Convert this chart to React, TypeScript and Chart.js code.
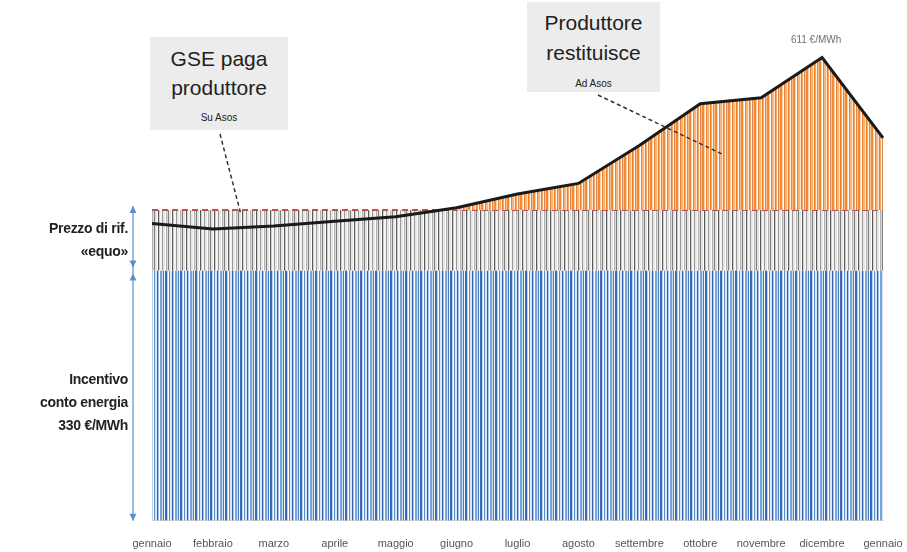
import React, { useEffect, useRef } from 'react';
import { Chart, registerables } from 'chart.js';
Chart.register(...registerables);

const months = ['gennaio', 'febbraio', 'marzo', 'aprile', 'maggio', 'giugno', 'luglio', 'agosto', 'settembre', 'ottobre', 'novembre', 'dicembre', 'gennaio'];
const priceLine = [392, 385, 389, 395, 401, 413, 431, 445, 495, 550, 558, 611, 505];
const incentive = [330, 330, 330, 330, 330, 330, 330, 330, 330, 330, 330, 330, 330];
const refPrice = [410, 410, 410, 410, 410, 410, 410, 410, 410, 410, 410, 410, 410];
const peakLabel = '611 €/MWh';

type Stripe = [string, number];
const blueStripes: Stripe[] = [['#3a6cb3', 2], ['#b9d0ee', 1], ['#ffffff', 1], ['#5d8dcf', 1], ['#dbe8f6', 2], ['#2f62ad', 1], ['#a5c2e8', 1], ['#ffffff', 1], ['#7aa3d9', 2], ['#cfe0f3', 1], ['#4a7cc2', 1], ['#eef4fb', 1]];
const greyStripes: Stripe[] = [['#7f7f7f', 1], ['#e3e3e3', 2], ['#ffffff', 1], ['#5a5a5a', 1], ['#cfcfcf', 1], ['#f4f4f4', 2], ['#9a9a9a', 1], ['#e6e6e6', 2], ['#ffffff', 1], ['#b3b3b3', 1], ['#dadada', 1]];
const orangeStripes: Stripe[] = [['#f28a30', 2], ['#fbd0a8', 1], ['#ffffff', 1], ['#e8843a', 1], ['#f9b57a', 2], ['#fde6d0', 1], ['#f07f1e', 1], ['#f6a868', 1], ['#fff3e8', 1], ['#d9895a', 1], ['#f8c08e', 1]];

function makePattern(stripes: Stripe[]): CanvasPattern | string {
  const w = stripes.reduce((s, x) => s + x[1], 0);
  const c = document.createElement('canvas');
  c.width = w;
  c.height = 4;
  const ctx = c.getContext('2d');
  if (!ctx) return stripes[0][0];
  let x = 0;
  for (const [col, sw] of stripes) {
    ctx.fillStyle = col;
    ctx.fillRect(x, 0, sw, 4);
    x += sw;
  }
  return ctx.createPattern(c, 'repeat') || stripes[0][0];
}

const decoPlugin = {
  id: 'deco',
  afterDraw(chart: any) {
    const { ctx, scales } = chart;
    const x = scales.x;
    const y = scales.y;
    ctx.save();
    // blue arrows on the left
    const ax = 133;
    const yTop = y.getPixelForValue(refPrice[0]) - 4;
    const yMid = y.getPixelForValue(incentive[0]);
    const yBot = y.getPixelForValue(0);
    ctx.strokeStyle = '#5b8fc9';
    ctx.fillStyle = '#5b8fc9';
    ctx.lineWidth = 1.2;
    ctx.beginPath();
    ctx.moveTo(ax, yTop);
    ctx.lineTo(ax, yBot);
    ctx.stroke();
    const head = (yy: number, dir: number) => {
      ctx.beginPath();
      ctx.moveTo(ax, yy);
      ctx.lineTo(ax - 3.5, yy - dir * 7);
      ctx.lineTo(ax + 3.5, yy - dir * 7);
      ctx.closePath();
      ctx.fill();
    };
    head(yTop, -1);
    head(yMid - 3, 1);
    head(yMid + 3, -1);
    head(yBot, 1);

    // leader lines
    ctx.strokeStyle = '#333333';
    ctx.lineWidth = 1.5;
    ctx.setLineDash([4, 3]);
    ctx.beginPath();
    ctx.moveTo(220, 134);
    ctx.lineTo(x.getPixelForValue(1.45), y.getPixelForValue(refPrice[1]) + 2);
    ctx.stroke();
    ctx.beginPath();
    ctx.moveTo(598, 95);
    ctx.lineTo(x.getPixelForValue(9.35), y.getPixelForValue(484));
    ctx.stroke();
    ctx.setLineDash([]);

    // peak label
    const maxV = Math.max(...priceLine);
    const idx = priceLine.indexOf(maxV);
    ctx.fillStyle = '#707070';
    ctx.font = "10px 'Liberation Sans Narrow', 'Liberation Sans', Arial";
    ctx.textAlign = 'center';
    ctx.textBaseline = 'middle';
    ctx.fillText(peakLabel, x.getPixelForValue(idx) - 6, y.getPixelForValue(maxV) - 17);
    ctx.restore();
  },
};

export default function App() {
  const ref = useRef<HTMLCanvasElement | null>(null);
  useEffect(() => {
    document.body.style.margin = '0';
    const canvas = ref.current;
    if (!canvas) return;
    const chart = new Chart(canvas, {
      type: 'line',
      data: {
        labels: months,
        datasets: [
          {
            label: 'Incentivo',
            data: incentive,
            fill: 'origin',
            backgroundColor: makePattern(blueStripes) as any,
            borderWidth: 0,
            pointRadius: 0,
            order: 3,
          },
          {
            label: 'Prezzo di riferimento',
            data: refPrice,
            fill: '-1',
            backgroundColor: makePattern(greyStripes) as any,
            borderColor: '#c0504d',
            borderWidth: 2,
            borderDash: [6, 4],
            pointRadius: 0,
            order: 2,
          },
          {
            label: 'Prezzo',
            data: priceLine,
            fill: { target: 1, above: makePattern(orangeStripes) as any, below: 'rgba(0,0,0,0)' },
            borderColor: '#1a1a1a',
            borderWidth: 3,
            pointRadius: 0,
            tension: 0,
            order: 1,
          },
        ],
      },
      options: {
        animation: false,
        responsive: false,
        layout: { padding: { left: 152, right: 24, top: 28, bottom: 0 } },
        plugins: { legend: { display: false }, tooltip: { enabled: false } },
        scales: {
          x: {
            offset: false,
            grid: { display: false, drawTicks: false },
            border: { display: true, color: '#ddd5c8', width: 1 },
            ticks: {
              autoSkip: false,
              maxRotation: 0,
              padding: 17,
              color: '#555555',
              font: { family: "'Liberation Sans Narrow', 'Liberation Sans', Arial", size: 11 },
            },
            afterFit: (s: any) => {
              s.paddingLeft = 0;
              s.paddingRight = 0;
            },
          },
          y: {
            display: false,
            min: 0,
            max: 650,
          },
        },
      },
      plugins: [decoPlugin],
    });
    return () => chart.destroy();
  }, []);

  const boxText: React.CSSProperties = { fontFamily: "'Liberation Sans', Arial, sans-serif", color: '#222', textAlign: 'center' };
  const leftText: React.CSSProperties = { position: 'absolute', right: 907 - 128, fontFamily: "'Liberation Sans', Arial, sans-serif", fontWeight: 'bold', fontSize: 14, color: '#222', textAlign: 'right', lineHeight: '23px', whiteSpace: 'nowrap', letterSpacing: '-0.3px' };

  return (
    <div style={{ position: 'relative', width: 907, height: 552, overflow: 'hidden', background: '#fff' }}>
      <canvas ref={ref} width={907} height={568} style={{ display: 'block' }} />
      <div style={{ position: 'absolute', left: 150, top: 37, width: 138, height: 93, background: '#ececec', ...boxText }}>
        <div style={{ fontSize: 21, lineHeight: '29px', marginTop: 7 }}>GSE paga</div>
        <div style={{ fontSize: 21, lineHeight: '29px' }}>produttore</div>
        <div style={{ fontSize: 10, lineHeight: '14px', marginTop: 9 }}>Su Asos</div>
      </div>
      <div style={{ position: 'absolute', left: 527, top: 2, width: 133, height: 90, background: '#ececec', ...boxText }}>
        <div style={{ fontSize: 21, lineHeight: '30px', marginTop: 6 }}>Produttore</div>
        <div style={{ fontSize: 21, lineHeight: '30px' }}>restituisce</div>
        <div style={{ fontSize: 10, lineHeight: '14px', marginTop: 9 }}>Ad Asos</div>
      </div>
      <div style={{ ...leftText, top: 217 }}>
        Prezzo di rif.<br />«equo»
      </div>
      <div style={{ ...leftText, top: 368 }}>
        Incentivo<br />conto energia<br />330 €/MWh
      </div>
    </div>
  );
}
